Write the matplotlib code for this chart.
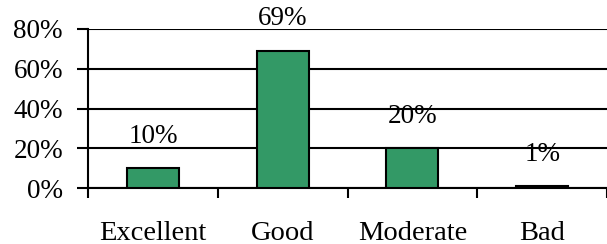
import matplotlib
matplotlib.use("Agg")
import matplotlib.pyplot as plt
from matplotlib.ticker import FixedLocator, NullFormatter

categories = ["Excellent", "Good", "Moderate", "Bad"]
values = [10, 69, 20, 1]
value_labels = ["10%", "69%", "20%", "1%"]
y_ticks = [0, 20, 40, 60, 80]
y_tick_labels = ["0%", "20%", "40%", "60%", "80%"]

plt.rcParams["font.family"] = ["Liberation Serif", "DejaVu Serif"]

fig = plt.figure(figsize=(6.07, 2.44), dpi=100)
ax = fig.add_axes([88/607, 1 - 188/244, 1 - 88/607, (188 - 29)/244])

x = list(range(len(categories)))
ax.bar(x, values, width=0.4, color="#339966", edgecolor="black", linewidth=1.5, zorder=3)

for xi, v, lab in zip(x, values, value_labels):
    ax.annotate(lab, (xi, v), xytext=(0, 14), textcoords="offset points",
                ha="center", va="bottom", fontsize=19.5, zorder=4)

ax.set_xlim(-0.5, 3.5)
ax.set_ylim(0, 80)
ax.set_yticks(y_ticks)
ax.set_yticklabels(y_tick_labels, fontsize=19.5)
ax.yaxis.grid(True, color="black", linewidth=1.5, zorder=1)
ax.set_axisbelow(True)

ax.set_xticks(x)
ax.set_xticklabels(categories, fontsize=20.5)
ax.tick_params(axis="x", which="major", length=0, pad=24)
ax.xaxis.set_minor_locator(FixedLocator([-0.5, 0.5, 1.5, 2.5, 3.5]))
ax.xaxis.set_minor_formatter(NullFormatter())
ax.tick_params(axis="x", which="minor", length=7, width=1.5, direction="out")
ax.tick_params(axis="y", length=8, width=1.5, direction="out", pad=10)

for s in ["top", "right"]:
    ax.spines[s].set_visible(False)
ax.spines["left"].set_linewidth(1.5)
ax.spines["bottom"].set_linewidth(1.5)

fig.savefig("out.png", dpi=100)
